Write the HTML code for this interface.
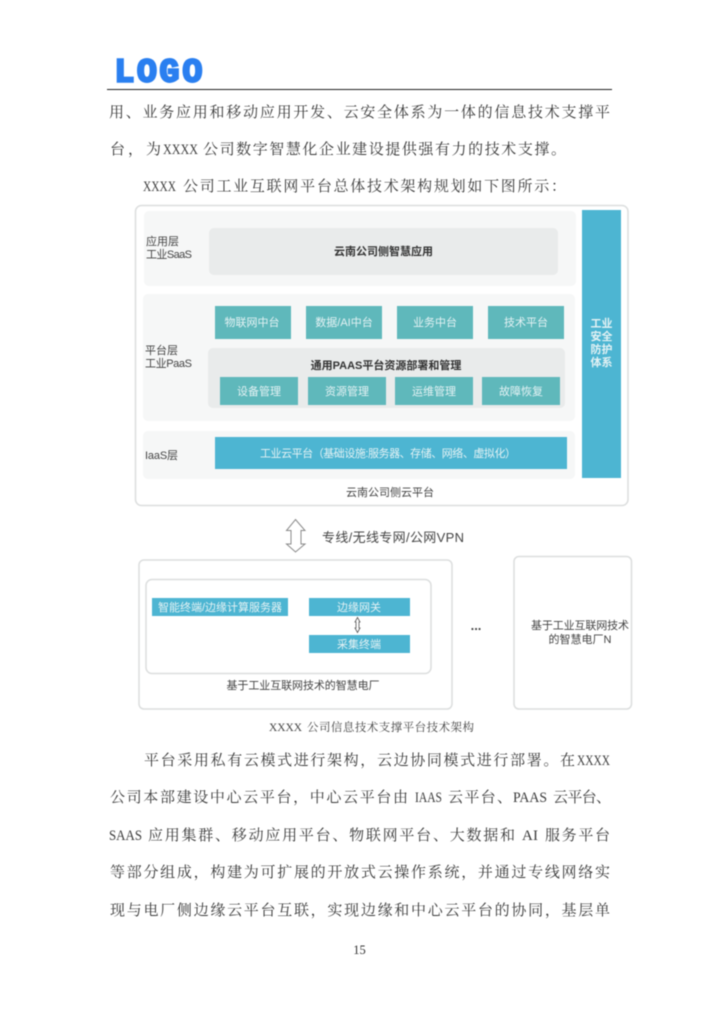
<!DOCTYPE html>
<html lang="zh">
<head>
<meta charset="utf-8">
<style>
html,body{margin:0;padding:0;background:#fff;width:719px;height:1018px;overflow:hidden}
svg{display:block;filter:blur(0.45px)}
.b{font-family:"Liberation Serif","Noto Serif CJK SC",serif;font-size:15px;fill:#3a3a3a}
.d{font-family:"Liberation Sans","Noto Sans CJK SC",sans-serif;font-size:11px;fill:#444}
.w{font-family:"Liberation Sans","Noto Sans CJK SC",sans-serif;font-size:11px;fill:#e4f2f4;text-anchor:middle}
.h{font-family:"Liberation Sans","Noto Sans CJK SC",sans-serif;font-size:11px;font-weight:700;fill:#333;text-anchor:middle}
.c{font-family:"Liberation Serif","Noto Serif CJK SC",serif;font-size:11.5px;fill:#444}
</style>
</head>
<body>
<svg width="719" height="1018" viewBox="0 0 719 1018" xmlns="http://www.w3.org/2000/svg">
<rect width="719" height="1018" fill="#fff"/>

<text x="114.500 137 159.500 182.500" y="81.500" font-family="Liberation Mono" font-weight="700" font-size="33" fill="#2a7ff0" stroke="#2a7ff0" stroke-width="2.4">LOGO</text>
<rect x="107" y="89" width="505" height="1" fill="#222"/>

<text class="b" x="109" y="117" textLength="501">用、业务应用和移动应用开发、云安全体系为一体的信息技术支撑平</text>
<text class="b" x="110" y="154" textLength="51">台，为</text>
<text class="b" x="163" y="154" textLength="35" lengthAdjust="spacingAndGlyphs">XXXX</text>
<text class="b" x="203" y="154" textLength="363">公司数字智慧化企业建设提供强有力的技术支撑。</text>
<text class="b" x="143" y="191" textLength="33" lengthAdjust="spacingAndGlyphs">XXXX</text>
<text class="b" x="183" y="191" textLength="383">公司工业互联网平台总体技术架构规划如下图所示：</text>

<rect x="135.500" y="205.500" width="492.500" height="300" rx="6" fill="#fff" stroke="#dcdede" stroke-width="1.5"/>
<rect x="144" y="211" width="432" height="75" rx="5" fill="#f6f7f7"/>
<rect x="143" y="294" width="432" height="127" rx="5" fill="#f6f7f7"/>
<rect x="143" y="431" width="432" height="48" rx="5" fill="#f6f7f7"/>

<text class="d" x="146" y="245" textLength="33">应用层</text>
<text class="d" x="146" y="258" textLength="46">工业SaaS</text>
<rect x="209" y="228" width="349" height="47" rx="5" fill="#e9ebeb"/>
<text class="h" x="383.500" y="255">云南公司侧智慧应用</text>

<text class="d" x="145" y="354" textLength="33">平台层</text>
<text class="d" x="145" y="367" textLength="47">工业PaaS</text>
<g fill="#5fb8bb">
<rect x="215" y="306" width="76" height="33"/>
<rect x="306" y="306" width="76" height="33"/>
<rect x="397" y="306" width="76" height="33"/>
<rect x="488" y="306" width="76" height="33"/>
</g>
<text class="w" x="252" y="326">物联网中台</text>
<text class="w" x="344" y="326">数据/AI中台</text>
<text class="w" x="435" y="326">业务中台</text>
<text class="w" x="526" y="326">技术平台</text>

<rect x="208" y="348" width="357" height="60" rx="5" fill="#e9ebeb"/>
<text class="h" x="386" y="369">通用PAAS平台资源部署和管理</text>
<g fill="#5fb8bb">
<rect x="220" y="377" width="78" height="28"/>
<rect x="308" y="377" width="78" height="28"/>
<rect x="395" y="377" width="78" height="28"/>
<rect x="482" y="377" width="78" height="28"/>
</g>
<text class="w" x="259" y="395">设备管理</text>
<text class="w" x="347" y="395">资源管理</text>
<text class="w" x="434" y="395">运维管理</text>
<text class="w" x="521" y="395">故障恢复</text>

<text class="d" x="145" y="459" textLength="33">IaaS层</text>
<rect x="215" y="437" width="352" height="32" fill="#4db5d2"/>
<text class="w" x="388" y="457" textLength="256">工业云平台（基础设施:服务器、存储、网络、虚拟化）</text>

<rect x="582" y="210" width="39" height="268" fill="#4db5d2"/>
<text class="w" x="601.500" y="327" font-weight="700">工业</text>
<text class="w" x="601.500" y="340" font-weight="700">安全</text>
<text class="w" x="601.500" y="353" font-weight="700">防护</text>
<text class="w" x="601.500" y="366" font-weight="700">体系</text>
<text class="d" x="390" y="496" text-anchor="middle">云南公司侧云平台</text>

<path d="M295.500 519.500 L305 530.500 L301 530.500 L301 544 L305 544 L295.500 552 L286.500 544 L291 544 L291 530.500 L286.500 530.500 Z" fill="#fff" stroke="#8a8a8a" stroke-width="1"/>
<text x="322" y="542" font-family="Liberation Sans,Noto Sans CJK SC,sans-serif" font-size="13" fill="#444" textLength="142">专线/无线专网/公网VPN</text>

<rect x="139" y="560" width="313" height="149" rx="5" fill="#fff" stroke="#dcdede" stroke-width="1.5"/>
<rect x="146" y="579.500" width="285" height="94" rx="6" fill="#fff" stroke="#dcdede" stroke-width="1.5"/>
<rect x="514" y="556.500" width="117.500" height="152.500" rx="5" fill="#fff" stroke="#dcdede" stroke-width="1.5"/>

<rect x="152" y="598" width="136" height="18" fill="#4db5d2"/>
<rect x="309" y="598" width="101" height="18" fill="#4db5d2"/>
<rect x="309" y="635" width="101" height="18" fill="#4db5d2"/>
<text class="w" x="220" y="611" textLength="124">智能终端/边缘计算服务器</text>
<text class="w" x="359" y="611">边缘网关</text>
<text class="w" x="359" y="648">采集终端</text>
<path d="M357.500 617.500 L360 622 L359 622 L359 628 L360 628 L357.500 632.500 L355 628 L356 628 L356 622 L355 622 Z" fill="#fff" stroke="#555" stroke-width="0.8"/>

<text class="d" x="303" y="689" text-anchor="middle" textLength="153">基于工业互联网技术的智慧电厂</text>
<text x="476" y="630" font-family="Liberation Sans" font-size="13" font-weight="700" fill="#444" text-anchor="middle">...</text>
<text class="d" x="580" y="629" text-anchor="middle" textLength="98">基于工业互联网技术</text>
<text class="d" x="580" y="643" text-anchor="middle">的智慧电厂N</text>

<text class="c" x="269" y="731" textLength="33" lengthAdjust="spacingAndGlyphs">XXXX</text>
<text class="c" x="307" y="731" textLength="167">公司信息技术支撑平台技术架构</text>

<text class="b" x="144" y="765" textLength="431">平台采用私有云模式进行架构，云边协同模式进行部署。在</text>
<text class="b" x="577" y="765" textLength="33" lengthAdjust="spacingAndGlyphs">XXXX</text>
<text class="b" x="110" y="802" textLength="298">公司本部建设中心云平台，中心云平台由</text>
<text class="b" x="415" y="802" textLength="27" lengthAdjust="spacingAndGlyphs">IAAS</text>
<text class="b" x="448" y="802" textLength="64">云平台、</text>
<text class="b" x="513" y="802" textLength="34" lengthAdjust="spacingAndGlyphs">PAAS</text>
<text class="b" x="553" y="802" textLength="58">云平台、</text>
<text class="b" x="109" y="840" textLength="33" lengthAdjust="spacingAndGlyphs">SAAS</text>
<text class="b" x="148" y="840" textLength="367">应用集群、移动应用平台、物联网平台、大数据和</text>
<text class="b" x="522" y="840" textLength="16">AI</text>
<text class="b" x="545" y="840" textLength="65">服务平台</text>
<text class="b" x="110" y="877" textLength="500">等部分组成，构建为可扩展的开放式云操作系统，并通过专线网络实</text>
<text class="b" x="110" y="915" textLength="500">现与电厂侧边缘云平台互联，实现边缘和中心云平台的协同，基层单</text>
<text x="359.500" y="954" font-family="Liberation Serif" font-size="12.500" fill="#333" text-anchor="middle">15</text>
</svg>
</body>
</html>
